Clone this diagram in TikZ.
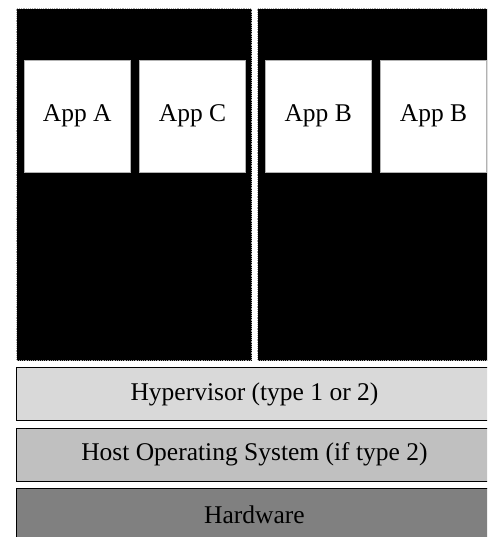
\documentclass[tikz,border=0pt]{standalone}
\usepackage{fontspec}
\setmainfont{Liberation Serif}
\usepackage{tikz}
\usetikzlibrary{positioning}
\usepackage{xcolor}
\definecolor{hypgray}{RGB}{217,217,217}
\definecolor{hostgray}{RGB}{192,192,192}
\definecolor{hwgray}{RGB}{128,128,128}
\newcommand{\boxfont}{\fontsize{25.5}{30}\selectfont}
\newcommand{\appW}{106pt}
\newcommand{\appH}{112pt}
\newcommand{\layerW}{476pt}
\newcommand{\layerH}{53pt}
\tikzstyle{vm}=[draw=white!65!black, densely dotted, line width=1.2pt, fill=black, anchor=north west, inner sep=0pt, minimum width=235pt, minimum height=352pt]
\tikzstyle{app}=[draw=white!70!black, line width=0.4pt, fill=white, anchor=north west, inner sep=0pt, minimum width=\appW, minimum height=\appH, font=\boxfont]
\tikzstyle{layer}=[draw=black, line width=0.9pt, anchor=north west, inner sep=0pt, minimum width=\layerW, minimum height=\layerH, font=\boxfont]
\begin{document}
\begin{tikzpicture}[x=1pt,y=-1pt]
\useasboundingbox (0,0) rectangle (487,537);
\clip (0,0) rectangle (487,537);
% virtual machines
\node[vm] (vm1) at (16,8) {};
\node[vm] (vm2) at (257,8) {};
\node[app] (appA) at (24,60) {App A};
\node[app, right=9pt of appA.north east, anchor=north west] (appC) {App C};
\node[app] (appB) at (265,60) {App B};
\node[app, right=9pt of appB.north east, anchor=north west] (appBB) {App B};
% layers
\node[layer, fill=hypgray] (hyp) at (16,367) {Hypervisor (type 1 or 2)};
\node[layer, fill=hostgray] (host) at (16,427.5) {Host Operating System (if type 2)};
\node[layer, fill=hwgray] (hw) at (16,487.5) {Hardware};
\end{tikzpicture}
\end{document}
